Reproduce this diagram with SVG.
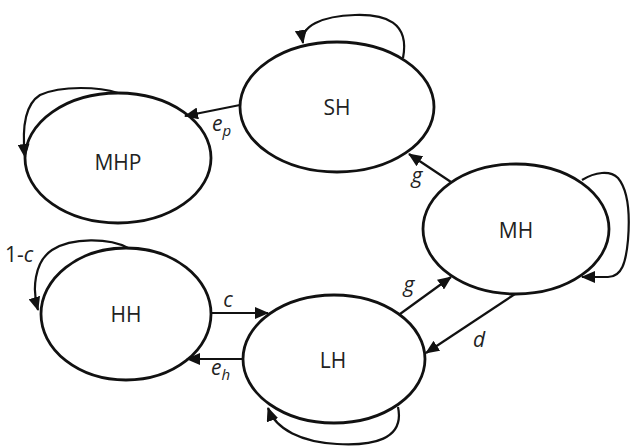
<svg xmlns="http://www.w3.org/2000/svg" width="630" height="446" viewBox="0 0 630 446">
<style>
.node{fill:#fff;stroke:#111;stroke-width:2.8}
.lbl{font-family:"Open Sans","Liberation Sans",sans-serif;font-size:21px;fill:#222;text-anchor:middle}
.edge{fill:none;stroke:#111;stroke-width:2.2}
.el{font-family:"Open Sans","Liberation Sans",sans-serif;font-size:21px;font-style:italic;fill:#222}
.sub{font-size:15px}
</style>
<defs>
<marker id="ah" markerUnits="userSpaceOnUse" markerWidth="14" markerHeight="12" refX="13" refY="6" orient="auto">
<path d="M0,0 L14,6 L0,12 Z" fill="#111"/>
</marker>
</defs>
<g id="SH"><ellipse class="node" cx="337" cy="107" rx="97" ry="65"/><text class="lbl" x="337" y="115">SH</text></g>
<g id="MHP"><ellipse class="node" cx="118" cy="158" rx="93" ry="65"/><text class="lbl" x="118" y="170">MHP</text></g>
<g id="HH"><ellipse class="node" cx="126" cy="314" rx="85" ry="66"/><text class="lbl" x="126" y="322">HH</text></g>
<g id="LH"><ellipse class="node" cx="334" cy="359" rx="91" ry="64"/><text class="lbl" x="333" y="368">LH</text></g>
<g id="MH"><ellipse class="node" cx="516" cy="229" rx="93" ry="65"/><text class="lbl" x="516" y="238">MH</text></g>
<g id="connectors">
<path class="edge" marker-end="url(#ah)" d="M240,105 L185,116"/>
<path class="edge" marker-end="url(#ah)" d="M403,58 C410,22 385,14 355,15 C322,16 300,26 303,43"/>
<path class="edge" marker-end="url(#ah)" d="M118,93 C100,87 62,85 40,95 C24,105 22,130 25,157"/>
<path class="edge" marker-end="url(#ah)" d="M128,248 C110,238 72,237 52,250 C34,262 32,290 38,310"/>
<path class="edge" marker-end="url(#ah)" d="M211,313 L268,313"/>
<path class="edge" marker-end="url(#ah)" d="M243,359 L187,359"/>
<path class="edge" marker-end="url(#ah)" d="M400,314 L451,277"/>
<path class="edge" marker-end="url(#ah)" d="M515,294 L426,353"/>
<path class="edge" marker-end="url(#ah)" d="M451,182 L409,154"/>
<path class="edge" marker-end="url(#ah)" d="M582,180 C595,172 610,170 618,178 C628,190 630,215 628,240 C626,262 622,277 608,277 L582,277"/>
<path class="edge" marker-end="url(#ah)" d="M398,407 C405,440 372,446 337,444 C302,442 276,430 268,408"/>
</g>
<g id="labels">
<text class="el" x="212" y="131">e<tspan class="sub" dy="5">p</tspan></text>
<text class="el" x="417" y="183" text-anchor="middle">g</text>
<text class="el" x="409" y="292" text-anchor="middle">g</text>
<text class="el" x="479" y="347" text-anchor="middle">d</text>
<text class="el" x="228" y="307" text-anchor="middle">c</text>
<text class="el" x="211" y="375">e<tspan class="sub" dy="5">h</tspan></text>
<text x="5" y="262" style="font-family:'Open Sans','Liberation Sans',sans-serif;font-size:21px;fill:#222">1-<tspan font-style="italic">c</tspan></text>
</g>
</svg>
